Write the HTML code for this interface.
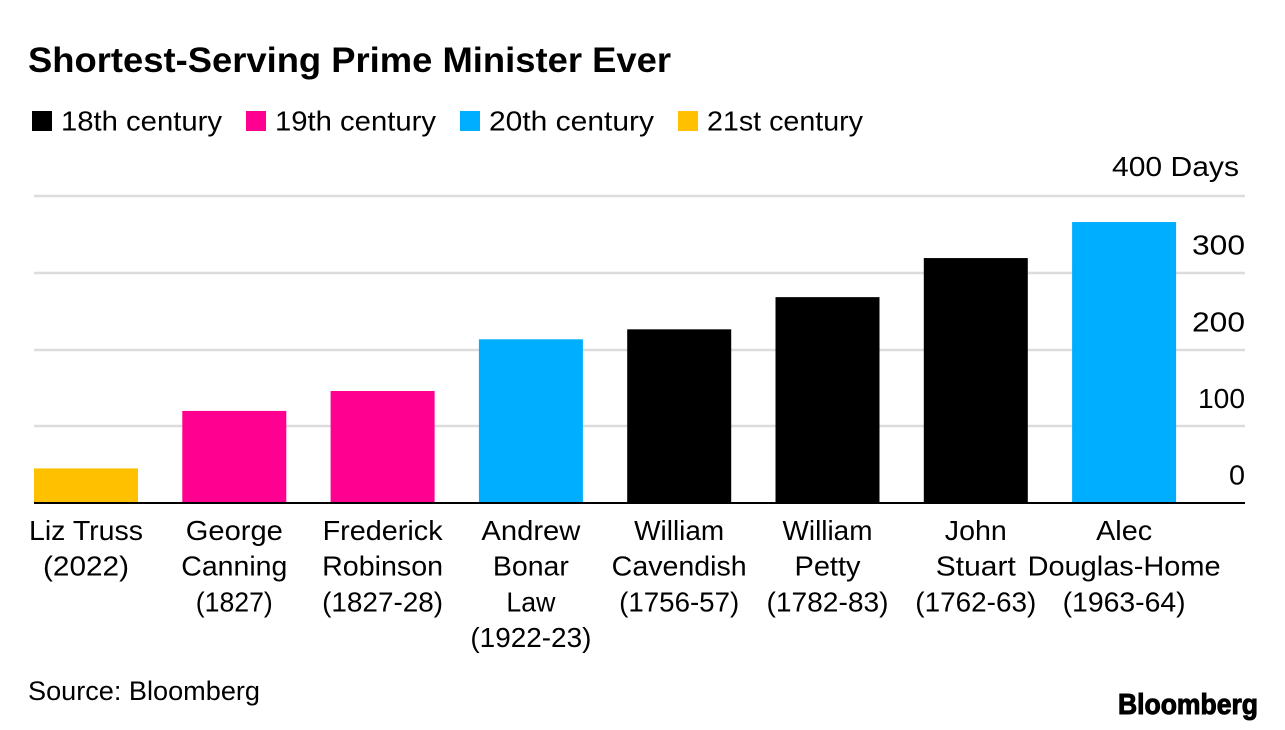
<!DOCTYPE html>
<html>
<head>
<meta charset="utf-8">
<style>
html,body{margin:0;padding:0;background:#fff;width:1285px;height:730px;overflow:hidden}
svg{display:block}
text{font-family:"Liberation Sans",Arial,sans-serif;fill:#000}
</style>
</head>
<body>
<svg id="chart" width="1285" height="730" viewBox="0 0 1285 730" xmlns="http://www.w3.org/2000/svg">
<text x="28" y="72" font-size="35" font-weight="700" textLength="643" lengthAdjust="spacingAndGlyphs">Shortest-Serving Prime Minister Ever</text>
<g id="legend"></g>
<g id="grid"></g>
<g id="bars"></g>
<g id="ylabels"></g>
<g id="xlabels"></g>
<text x="28" y="700" font-size="26.5" textLength="232" lengthAdjust="spacingAndGlyphs">Source: Bloomberg</text>
<text x="1118" y="714" font-size="29" font-weight="700" textLength="140" lengthAdjust="spacingAndGlyphs" stroke="#000" stroke-width="1">Bloomberg</text>
</svg>
<script>
const categories = [
  ["Liz Truss","(2022)"],
  ["George","Canning","(1827)"],
  ["Frederick","Robinson","(1827-28)"],
  ["Andrew","Bonar","Law","(1922-23)"],
  ["William","Cavendish","(1756-57)"],
  ["William","Petty","(1782-83)"],
  ["John","Stuart","(1762-63)"],
  ["Alec","Douglas-Home","(1963-64)"]
];
const days = [44.5, 119.5, 145.5, 213, 226, 268, 319, 366];
const centuries = ["21st","19th","19th","20th","18th","18th","18th","20th"];
const tickValues = [0, 100, 200, 300, 400];
const tickLabels = ["0","100","200","300","400 Days"];
const legendNames = ["18th century","19th century","20th century","21st century"];
const legendKeys = ["18th","19th","20th","21st"];
const colorOf = {"18th":"#000000","19th":"#ff0090","20th":"#00aeff","21st":"#ffc000"};

/* Rendered text widths, used to match the wider typeface of the original */
const textWidths = {
  "18th century":161,"19th century":161,"20th century":165,"21st century":156,
  "0":16,"100":47,"200":53,"300":53,"400 Days":127,
  "Liz Truss":114,"(2022)":86,"George":97,"Canning":106,"(1827)":77,
  "Frederick":120,"Robinson":121,"(1827-28)":121,"Andrew":99,"Bonar":76,"Law":49,
  "(1922-23)":121,"William":90,"Cavendish":135,"(1756-57)":120,"Petty":66,
  "(1782-83)":122,"John":62,"Stuart":80,"(1762-63)":121,"Alec":56,
  "Douglas-Home":193,"(1963-64)":123
};

const NS = "http://www.w3.org/2000/svg";
const y = v => 502.5 - v * (502.5 - 196) / 400;
const x = i => 34 + i * 148.3;
const barW = 104;
function mk(parent, tag, attrs, txt){
  const e = document.createElementNS(NS, tag);
  for (const k in attrs) e.setAttribute(k, attrs[k]);
  if (txt !== undefined) {
    e.textContent = txt;
    if (textWidths[txt]) {
      e.setAttribute('textLength', textWidths[txt]);
      e.setAttribute('lengthAdjust', 'spacingAndGlyphs');
    }
  }
  parent.appendChild(e);
  return e;
}

const grid = document.getElementById('grid');
tickValues.forEach(v => {
  if (v === 0) return;
  const gy = Math.round(y(v) + 0.3);
  const l = mk(grid, 'line', {x1:34, x2:1245, y1:gy, y2:gy, stroke:'#dcdcdc', 'stroke-width':2.5});
  
  
});

const bars = document.getElementById('bars');
days.forEach((d, i) => {
  const r = mk(bars, 'rect', {x:x(i), y:y(d), width:barW, height:y(0)-y(d), fill:colorOf[centuries[i]]});
  
  
});
const axis = mk(bars, 'line', {x1:34, x2:1245, y1:y(0)+0.5, y2:y(0)+0.5, stroke:'#000', 'stroke-width':2});



const yl = document.getElementById('ylabels');
tickValues.forEach((v, i) => {
  const isTop = v === tickValues[tickValues.length - 1];
  const t = mk(yl, 'text', {x:isTop ? 1239 : 1245, y:isTop ? 176 : y(v) - 18, 'font-size':27.5, 'text-anchor':'end'}, tickLabels[i]);
  
  
});

const xl = document.getElementById('xlabels');
categories.forEach((lines, i) => {
  lines.forEach((s, j) => {
    const t = mk(xl, 'text', {x:x(i)+barW/2, y:540 + j*35.7, 'font-size':27.5, 'text-anchor':'middle'}, s);
    
    
  });
});

const lg = document.getElementById('legend');
const legendX = [32, 246, 460, 678];
legendNames.forEach((n, i) => {
  const r = mk(lg, 'rect', {x:legendX[i], y:111, width:20, height:20, fill:colorOf[legendKeys[i]]});
  
  
  const t = mk(lg, 'text', {x:legendX[i]+29, y:130.5, 'font-size':27.5}, n);
  
  
});
</script>
</body>
</html>
